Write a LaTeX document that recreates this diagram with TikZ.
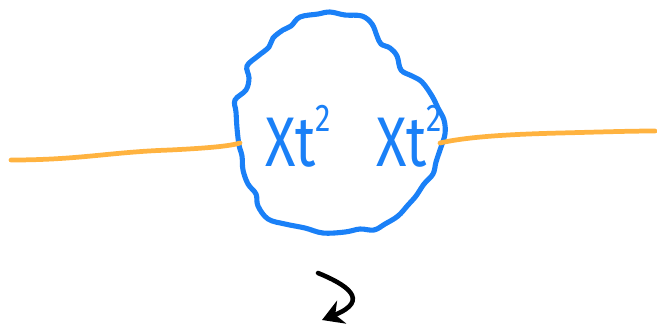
\documentclass[tikz,border=0pt]{standalone}
\usepackage{fontspec}
\setsansfont{Fira Sans}
\usetikzlibrary{arrows.meta}
\definecolor{blobblue}{HTML}{1A80F7}
\definecolor{lineorange}{HTML}{FFB340}
\newcommand{\supnum}[1]{\raisebox{20pt}{\fontsize{22}{22}\selectfont #1}}
\tikzset{
  blob/.style={draw=blobblue, line width=2.9pt, line join=round, line cap=round},
  wire/.style={draw=lineorange, line width=2.7pt, line cap=round},
  hand/.style={text=blobblue, font=\sffamily\fontsize{40}{40}\selectfont, inner sep=0pt, xscale=0.8},
  turn/.style={draw=black, line width=2.6pt, line cap=round, -{Stealth[length=12pt,width=14pt]}}
}
\begin{document}
\begin{tikzpicture}[x=0.02cm, y=-0.02cm]
\useasboundingbox (0,0) rectangle (657,326);
% blob
\draw[blob] plot[smooth cycle, tension=0.6] coordinates {
 (300,17) (318,14) (330,12) (345,15) (362,16) (372,24) (377,36) (381,44) (390,48)
 (397,56) (401,70) (412,76) (422,82) (432,96) (438,108) (444,120) (445,134)
 (440,150) (436,162) (433,174) (424,184) (416,196) (408,205) (398,216)
 (385,224) (374,230) (360,229) (345,232) (323,233) (305,228) (285,224) (268,219)
 (258,206) (256,194) (248,184) (243,170) (242,156) (239,145) (237,128) (236,112)
 (235,100) (246,90) (249,78) (247,66) (258,56) (269,47) (273,38) (283,30) (291,26)
};
% texts
\node[hand] (t1) at (298,136) {Xt\supnum{2}};
\node[hand] (t2) at (409,136) {Xt\supnum{2}};
% wires
\coordinate (la) at (11,160);
\coordinate (lb) at (240,143);
\coordinate (ra) at (440,143);
\coordinate (rb) at (655,131);
\draw[wire] (la) .. controls (80,160) and (110,152) .. (170,150) .. controls (210,148) and (230,146) .. (lb);
\draw[wire] (ra) .. controls (470,136) and (520,134) .. (560,133) .. controls (600,132) and (630,131) .. (rb);
% arrow
\coordinate (a1) at (318,273);
\coordinate (a2) at (322,320);
\draw[turn] (a1) .. controls (345,284) and (372,300) .. (a2);
\end{tikzpicture}
\end{document}
